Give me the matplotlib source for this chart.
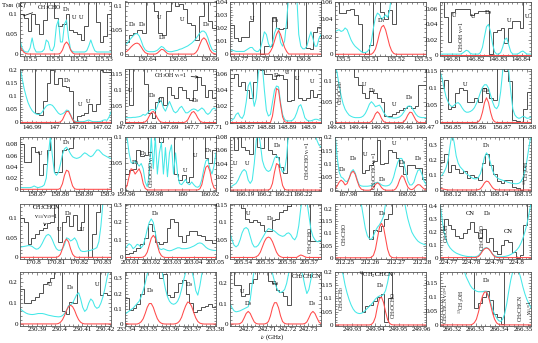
import numpy as np
import matplotlib
matplotlib.use("Agg")
import matplotlib.pyplot as plt
from matplotlib.ticker import MultipleLocator, AutoMinorLocator, FuncFormatter
from matplotlib.transforms import blended_transform_factory

plt.rcParams['font.family'] = ['Liberation Serif', 'DejaVu Serif']
plt.rcParams['mathtext.fontset'] = 'stix'

# frequency window of each panel (GHz), row by row
freq_lo = [115.496, 130.633, 130.766, 135.497, 146.805,
           146.985, 147.670, 148.863, 149.4295, 156.845,
           158.8627, 159.959, 166.1823, 167.9712, 168.1149,
           170.7943, 203.0077, 205.5341, 212.2461, 224.7665,
           230.3825, 233.3395, 242.6916, 249.9227, 266.3149]
freq_hi = [115.533, 130.662, 130.808, 135.5313, 146.844,
           147.024, 147.7114, 148.9062, 149.4705, 156.8816,
           158.9018, 160.024, 166.229, 168.0329, 168.1533,
           170.8339, 203.0505, 205.5755, 212.2815, 224.8061,
           230.4226, 233.3805, 242.7364, 249.9618, 266.3533]
tmb_lo = [-0.005, -0.004, -0.0015, -0.002, -0.0015,
          -0.004, -0.003, -0.0012, -0.002, -0.003,
          -0.003, -0.002, -0.0015, -0.003, -0.007,
          -0.003, -0.006, -0.003, -0.003, -0.007,
          -0.01, -0.013, -0.01, -0.004, -0.004]
tmb_hi = [0.131, 0.11, 0.0402, 0.0602, 0.07,
          0.203, 0.165, 0.066, 0.128, 0.156,
          0.094, 0.101, 0.081, 0.203, 0.36,
          0.137, 0.305, 0.152, 0.22, 0.415,
          0.252, 0.346, 0.259, 0.202, 0.19]
freq_step = [0.01, 0.01, 0.01, 0.01, 0.01,
             0.01, 0.01, 0.01, 0.01, 0.01,
             0.01, 0.02, 0.01, 0.02, 0.01,
             0.01, 0.01, 0.01, 0.01, 0.01,
             0.01, 0.01, 0.01, 0.01, 0.01]
tmb_step = [0.05, 0.05, 0.01, 0.02, 0.02,
            0.05, 0.05, 0.02, 0.05, 0.05,
            0.02, 0.05, 0.02, 0.05, 0.1,
            0.05, 0.1, 0.05, 0.05, 0.1,
            0.1, 0.1, 0.1, 0.05, 0.05]

# observed spectra, channel values (K), channels spread evenly over the window
obs_spec = [
    [0.10, 0.09, 0.058, 0.10, 0.075, 0.05, 0.085, 0.14, 0.14, 0.09, 0.07, 0.075,
     0.10, 0.06, 0.055, 0.05, 0.035, 0.07, 0.14, 0.14, 0.08, 0.03, 0.045, 0.10],
    [0.025, 0.04, 0.045, 0.05, 0.045, 0.12, 0.12, 0.09, 0.045, 0.04, 0.09,
     0.12, 0.1, 0.105, 0.095, 0.065, 0.06, 0.03, 0.08, 0.12, 0.07, 0.055],
    [0.022, 0.012, 0.01, 0.013, 0.013, 0.025, 0.05, 0.05, 0.0, 0.006, 0.006, 0.028,
     0.02, 0.019, 0.02, 0.045, 0.05, 0.05, 0.05, 0.05, 0.005, 0.004, 0.017, 0.021],
    [0.07, 0.047, 0.047, 0.05, 0.052, 0.045, 0.035, 0.003, 0.0, 0.01, 0.07, 0.07,
     0.048, 0.04, 0.05, 0.034, 0.07, 0.07, 0.07, 0.07, 0.07, 0.07, 0.07, 0.07],
    [0.08, 0.05, 0.017, 0.056, 0.06, 0.06, 0.06, 0.06, 0.052, 0.055, 0.057, 0.058,
     0.058, 0.001, 0.03, 0.032, 0.035, 0.015, 0.035, 0.045, 0.045, 0.035, 0.08, 0.08],
    [0.25, 0.25, 0.25, 0.25, 0.035, 0.03, 0.08, 0.15, 0.2, 0.145, 0.17, 0.14,
     0.135, 0.12, 0.0, 0.025, 0.03, 0.035, 0.07, 0.045, 0.07, 0.2, 0.19, 0.19],
    [0.17, 0.055, 0.17, 0.17, 0.17, 0.12, 0.03, 0.015, 0.063, 0.078, 0.054, 0.11,
     0.085, 0.075, 0.11, 0.1, 0.075, 0.068, 0.1, 0.14, 0.115, 0.08, 0.1, 0.075],
    [0.055, 0.06, 0.045, 0.05, 0.04, 0.03, 0.05, 0.07, 0.065, 0.06, 0.06, 0.054,
     0.058, 0.058, 0.054, 0.026, 0.028, 0.07, 0.03, 0.028, 0.03, 0.04, 0.032, 0.035],
    [0.14, 0.14, 0.14, 0.14, 0.14, 0.11, 0.09, 0.07, 0.058, 0.075, 0.07, 0.06,
     0.05, 0.015, 0.017, 0.02, 0.025, 0.03, 0.035, 0.04, 0.035, 0.04, 0.09, 0.09],
    [0.1, 0.125, 0.04, 0.045, 0.085, 0.1, 0.095, 0.06, 0.06, 0.07, 0.06, 0.1,
     0.085, 0.07, 0.065, 0.16, 0.16, 0.15, 0.12, 0.006, 0.005, 0.0, 0.04, 0.09],
    [0.08, 0.048, 0.048, 0.075, 0.066, 0.025, 0.045, 0.07, 0.1, 0.03, 0.03, 0.07,
     0.072, 0.074, 0.1, 0.1, 0.1, 0.1, 0.1, 0.1, 0.1, 0.1, 0.1, 0.1],
    [0.03, 0.037, 0.04, 0.075, 0.065, 0.066, 0.11, 0.11, 0.11, 0.09, 0.11, 0.11,
     0.11, 0.03, 0.018, 0.028, 0.015, 0.025, 0.11, 0.11, 0.11, 0.06, 0.05, 0.075],
    [0.09, 0.06, 0.08, 0.065, 0.06, 0.055, 0.09, 0.065, 0.064, 0.085, 0.06, 0.055,
     0.05, 0.035, 0.025, 0.09, 0.09, 0.09, 0.09, 0.09, 0.09, 0.09, 0.09, 0.09],
    [0.25, 0.25, 0.25, 0.25, 0.25, 0.25, 0.25, 0.066, 0.078, 0.097, 0.109, 0.19,
     0.1, 0.103, 0.152, 0.146, 0.12, 0.09, 0.06, 0.097, 0.097, 0.084, 0.084, 0.041],
    [0.19, 0.245, 0.12, 0.17, 0.14, 0.115, 0.13, 0.08, 0.1, 0.09, 0.07, 0.18,
     0.245, 0.17, 0.11, 0.06, 0.05, 0.065, 0.07, 0.017, 0.015, 0.0, 0.37, 0.37],
    [0.1, 0.09, 0.034, 0.05, 0.06, 0.071, 0.075, 0.088, 0.092, 0.14, 0.04, 0.09,
     0.105, 0.08, 0.11, 0.07, 0.09, 0.14, 0.0, 0.06, 0.116, 0.14, 0.14, 0.14],
    [0.02, 0.025, 0.035, 0.055, 0.074, 0.11, 0.19, 0.15, 0.09, 0.074, 0.09, 0.17,
     0.22, 0.2, 0.12, 0.09, 0.13, 0.15, 0.15, 0.13, 0.12, 0.1, 0.1, 0.08],
    [0.16, 0.16, 0.16, 0.14, 0.11, 0.1, 0.106, 0.1, 0.093, 0.074, 0.075, 0.106,
     0.11, 0.13, 0.136, 0.145, 0.16, 0.16, 0.16, 0.16, 0.16, 0.046, 0.046, 0.046],
    [0.25, 0.25, 0.25, 0.25, 0.25, 0.25, 0.25, 0.25, 0.25, 0.075, 0.114, 0.108,
     0.13, 0.16, 0.18, 0.25, 0.25, 0.25, 0.25, 0.25, 0.25, 0.25, 0.25, 0.25],
    [0.21, 0.3, 0.25, 0.22, 0.17, 0.15, 0.19, 0.225, 0.275, 0.2, 0.15, 0.22,
     0.12, 0.15, 0.05, 0.025, 0.1, 0.14, 0.12, 0.04, 0.0, 0.02, 0.25, 0.42],
    [0.17, 0.1, 0.1, 0.114, 0.13, 0.15, 0.19, 0.2, 0.22, 0.26, 0.26, 0.06,
     0.05, 0.106, 0.1, 0.26, 0.26, 0.26, 0.26, 0.26, 0.26, 0.14, 0.15, 0.14],
    [0.17, 0.093, 0.104, 0.13, 0.2, 0.36, 0.36, 0.36, 0.36, 0.3, 0.33, 0.19,
     0.18, 0.21, 0.27, 0.29, 0.2, 0.137, 0.082, 0.09, 0.115, 0.12, 0.13, 0.115],
    [0.27, 0.19, 0.19, 0.14, 0.15, 0.2, 0.22, 0.27, 0.27, 0.27, 0.21, 0.2,
     0.17, 0.16, 0.14, 0.095, 0.27, 0.27, 0.27, 0.27, 0.27, 0.27, 0.27, 0.27],
    [0.25, 0.25, 0.25, 0.25, 0.25, 0.25, 0.25, 0.048, 0.07, 0.075, 0.09, 0.105,
     0.118, 0.01, 0.1, 0.25, 0.25, 0.25, 0.25, 0.25, 0.25, 0.25, 0.25, 0.25],
    [0.2, 0.2, 0.2, 0.2, 0.2, 0.2, 0.2, 0.2, 0.2, 0.06, 0.078, 0.1,
     0.12, 0.09, 0.04, 0.028, 0.004, 0.2, 0.2, 0.2, 0.2, 0.2, 0.2, 0.2],
]

# full LTE model, all species (K), sampled evenly over the window
model_all = [
    [0.035, 0.015, 0.007, 0.005, 0.005, 0.015, 0.04, 0.015, 0.005, 0.005, 0.005, 0.006,
     0.012, 0.035, 0.03, 0.01, 0.008, 0.02, 0.07, 0.085, 0.03, 0.03, 0.075, 0.085,
     0.04, 0.012, 0.006, 0.005, 0.005, 0.005, 0.005, 0.005, 0.005, 0.008, 0.02, 0.035,
     0.02, 0.008, 0.005, 0.005, 0.005, 0.005, 0.005, 0.005, 0.005, 0.005],
    [0.02, 0.022, 0.028, 0.033, 0.038, 0.042, 0.043, 0.038, 0.028, 0.016, 0.009, 0.006,
     0.005, 0.005, 0.005, 0.006, 0.008, 0.012, 0.016, 0.014, 0.009, 0.006, 0.005, 0.005,
     0.006, 0.007, 0.008, 0.01, 0.011, 0.013, 0.015, 0.017, 0.02, 0.023, 0.027, 0.032,
     0.038, 0.044, 0.048, 0.048, 0.044, 0.034, 0.02, 0.01, 0.006, 0.005],
    [0.003, 0.003, 0.0025, 0.002, 0.002, 0.002, 0.002, 0.002, 0.003, 0.004, 0.005, 0.005,
     0.003, 0.002, 0.002, 0.004, 0.01, 0.017, 0.015, 0.008, 0.005, 0.008, 0.016, 0.02,
     0.019, 0.009, 0.006, 0.01, 0.025, 0.045, 0.06, 0.06, 0.06, 0.045, 0.015, 0.006,
     0.004, 0.004, 0.006, 0.012, 0.017, 0.012, 0.006, 0.006, 0.012, 0.015],
    [0.026, 0.027, 0.028, 0.026, 0.027, 0.03, 0.028, 0.022, 0.016, 0.012, 0.009, 0.007,
     0.005, 0.003, 0.002, 0.002, 0.003, 0.006, 0.015, 0.03, 0.042, 0.047, 0.045, 0.04,
     0.042, 0.045, 0.042, 0.05, 0.07, 0.08, 0.08, 0.08, 0.08, 0.08, 0.08, 0.08,
     0.08, 0.08, 0.08, 0.08, 0.08, 0.08, 0.08, 0.08, 0.08, 0.08],
    [0.001, 0.001, 0.001, 0.001, 0.001, 0.001, 0.001, 0.001, 0.001, 0.001, 0.001, 0.002,
     0.004, 0.006, 0.005, 0.002, 0.001, 0.001, 0.001, 0.001, 0.003, 0.01, 0.024, 0.037,
     0.04, 0.03, 0.014, 0.004, 0.001, 0.001, 0.003, 0.01, 0.02, 0.022, 0.013, 0.004,
     0.001, 0.001, 0.001, 0.002, 0.004, 0.005, 0.003, 0.001, 0.001, 0.001],
    [0.21, 0.17, 0.13, 0.1, 0.075, 0.058, 0.045, 0.037, 0.032, 0.03, 0.032, 0.04,
     0.052, 0.062, 0.067, 0.068, 0.065, 0.056, 0.045, 0.035, 0.03, 0.033, 0.038, 0.047,
     0.045, 0.03, 0.012, 0.005, 0.003, 0.003, 0.003, 0.003, 0.004, 0.007, 0.009, 0.006,
     0.003, 0.003, 0.003, 0.003, 0.004, 0.008, 0.01, 0.008, 0.02, 0.04],
    [0.015, 0.015, 0.015, 0.015, 0.016, 0.016, 0.017, 0.018, 0.02, 0.025, 0.022, 0.028,
     0.035, 0.04, 0.04, 0.036, 0.05, 0.07, 0.065, 0.045, 0.035, 0.05, 0.065, 0.05,
     0.035, 0.03, 0.035, 0.045, 0.05, 0.04, 0.03, 0.03, 0.035, 0.04, 0.042, 0.04,
     0.035, 0.04, 0.045, 0.04, 0.03, 0.025, 0.03, 0.04, 0.045, 0.04],
    [0.002, 0.003, 0.005, 0.01, 0.012, 0.007, 0.005, 0.01, 0.025, 0.045, 0.05, 0.035,
     0.02, 0.03, 0.06, 0.075, 0.07, 0.04, 0.015, 0.008, 0.01, 0.025, 0.04, 0.045,
     0.044, 0.025, 0.01, 0.004, 0.002, 0.002, 0.002, 0.003, 0.006, 0.012, 0.02, 0.022,
     0.015, 0.006, 0.003, 0.002, 0.002, 0.003, 0.004, 0.004, 0.003, 0.003],
    [0.14, 0.12, 0.09, 0.065, 0.045, 0.032, 0.024, 0.018, 0.015, 0.013, 0.012, 0.012,
     0.012, 0.013, 0.016, 0.022, 0.032, 0.044, 0.05, 0.045, 0.038, 0.04, 0.042, 0.035,
     0.025, 0.018, 0.014, 0.012, 0.012, 0.011, 0.011, 0.012, 0.014, 0.018, 0.025, 0.033,
     0.039, 0.04, 0.036, 0.028, 0.02, 0.015, 0.013, 0.012, 0.012, 0.012],
    [0.15, 0.13, 0.1, 0.075, 0.06, 0.05, 0.046, 0.05, 0.056, 0.058, 0.052, 0.042,
     0.034, 0.03, 0.03, 0.032, 0.036, 0.043, 0.055, 0.07, 0.088, 0.102, 0.11, 0.11,
     0.1, 0.08, 0.06, 0.045, 0.04, 0.05, 0.09, 0.15, 0.17, 0.17, 0.15, 0.09,
     0.04, 0.022, 0.015, 0.012, 0.014, 0.018, 0.016, 0.012, 0.013, 0.016],
    [0.004, 0.003, 0.003, 0.003, 0.003, 0.003, 0.004, 0.006, 0.004, 0.003, 0.004, 0.005,
     0.008, 0.02, 0.06, 0.095, 0.06, 0.03, 0.025, 0.03, 0.045, 0.062, 0.072, 0.075,
     0.07, 0.063, 0.058, 0.056, 0.055, 0.056, 0.058, 0.062, 0.065, 0.063, 0.06, 0.058,
     0.06, 0.065, 0.07, 0.07, 0.066, 0.062, 0.06, 0.058, 0.056, 0.055],
    [0.11, 0.1, 0.07, 0.052, 0.05, 0.055, 0.05, 0.045, 0.05, 0.04, 0.015, 0.006,
     0.03, 0.1, 0.04, 0.1, 0.03, 0.07, 0.09, 0.03, 0.08, 0.025, 0.07, 0.085,
     0.03, 0.07, 0.03, 0.012, 0.01, 0.015, 0.02, 0.012, 0.01, 0.015, 0.01, 0.006,
     0.005, 0.008, 0.02, 0.04, 0.055, 0.058, 0.04, 0.03, 0.045, 0.07],
    [0.005, 0.006, 0.008, 0.01, 0.015, 0.022, 0.028, 0.031, 0.028, 0.015, 0.01, 0.015,
     0.04, 0.075, 0.09, 0.07, 0.045, 0.035, 0.03, 0.028, 0.03, 0.038, 0.048, 0.052,
     0.048, 0.035, 0.027, 0.03, 0.05, 0.09, 0.09, 0.09, 0.09, 0.09, 0.09, 0.09,
     0.09, 0.09, 0.09, 0.09, 0.09, 0.09, 0.085, 0.075, 0.068, 0.065],
    [0.22, 0.13, 0.07, 0.05, 0.045, 0.035, 0.032, 0.045, 0.07, 0.078, 0.065, 0.04,
     0.02, 0.016, 0.015, 0.015, 0.015, 0.016, 0.018, 0.022, 0.028, 0.03, 0.026, 0.02,
     0.017, 0.016, 0.017, 0.02, 0.03, 0.05, 0.08, 0.105, 0.12, 0.12, 0.105, 0.07,
     0.035, 0.02, 0.02, 0.03, 0.055, 0.075, 0.078, 0.06, 0.035, 0.022],
    [0.09, 0.1, 0.12, 0.15, 0.2, 0.3, 0.38, 0.32, 0.23, 0.18, 0.155, 0.14,
     0.125, 0.11, 0.1, 0.09, 0.08, 0.075, 0.075, 0.085, 0.11, 0.16, 0.22, 0.25,
     0.23, 0.18, 0.13, 0.1, 0.085, 0.075, 0.07, 0.065, 0.06, 0.055, 0.05, 0.047,
     0.044, 0.042, 0.042, 0.045, 0.055, 0.08, 0.13, 0.2, 0.29, 0.37],
    [0.026, 0.027, 0.028, 0.029, 0.03, 0.03, 0.028, 0.024, 0.021, 0.022, 0.027, 0.036,
     0.047, 0.056, 0.059, 0.055, 0.045, 0.032, 0.022, 0.018, 0.018, 0.022, 0.032, 0.05,
     0.048, 0.042, 0.045, 0.05, 0.042, 0.026, 0.017, 0.015, 0.015, 0.016, 0.017, 0.018,
     0.02, 0.022, 0.025, 0.04, 0.08, 0.14, 0.14, 0.14, 0.14, 0.14],
    [0.05, 0.065, 0.078, 0.07, 0.05, 0.06, 0.075, 0.07, 0.055, 0.07, 0.11, 0.16,
     0.2, 0.22, 0.2, 0.14, 0.08, 0.05, 0.045, 0.05, 0.045, 0.04, 0.038, 0.04,
     0.045, 0.05, 0.055, 0.055, 0.05, 0.05, 0.05, 0.052, 0.055, 0.06, 0.065, 0.072,
     0.08, 0.083, 0.08, 0.07, 0.058, 0.05, 0.045, 0.042, 0.04, 0.04],
    [0.07, 0.05, 0.035, 0.03, 0.035, 0.05, 0.07, 0.082, 0.085, 0.08, 0.06, 0.04,
     0.03, 0.03, 0.035, 0.045, 0.055, 0.065, 0.075, 0.082, 0.08, 0.078, 0.075, 0.07,
     0.065, 0.062, 0.06, 0.062, 0.068, 0.07, 0.065, 0.055, 0.05, 0.06, 0.09, 0.14,
     0.17, 0.17, 0.16, 0.12, 0.08, 0.06, 0.05, 0.045, 0.045, 0.05],
    [0.25, 0.25, 0.25, 0.25, 0.25, 0.25, 0.25, 0.25, 0.25, 0.25, 0.25, 0.25,
     0.25, 0.22, 0.17, 0.12, 0.09, 0.078, 0.075, 0.09, 0.11, 0.125, 0.135, 0.15,
     0.17, 0.22, 0.25, 0.25, 0.25, 0.25, 0.25, 0.25, 0.25, 0.25, 0.25, 0.2,
     0.16, 0.13, 0.105, 0.09, 0.078, 0.068, 0.062, 0.058, 0.055, 0.052],
    [0.42, 0.3, 0.2, 0.14, 0.1, 0.075, 0.058, 0.045, 0.035, 0.028, 0.022, 0.017,
     0.013, 0.01, 0.008, 0.007, 0.006, 0.006, 0.008, 0.015, 0.035, 0.058, 0.073, 0.078,
     0.07, 0.05, 0.028, 0.015, 0.008, 0.006, 0.006, 0.007, 0.009, 0.012, 0.017, 0.024,
     0.033, 0.045, 0.06, 0.08, 0.11, 0.15, 0.2, 0.26, 0.34, 0.42],
    [0.075, 0.065, 0.058, 0.052, 0.048, 0.046, 0.045, 0.046, 0.048, 0.05, 0.05, 0.05,
     0.048, 0.045, 0.042, 0.04, 0.038, 0.036, 0.035, 0.034, 0.035, 0.04, 0.05, 0.065,
     0.088, 0.092, 0.1, 0.12, 0.14, 0.15, 0.12, 0.08, 0.06, 0.07, 0.1, 0.12,
     0.11, 0.085, 0.075, 0.08, 0.1, 0.13, 0.17, 0.22, 0.26, 0.26],
    [0.065, 0.075, 0.085, 0.095, 0.105, 0.12, 0.135, 0.15, 0.18, 0.22, 0.27, 0.33,
     0.37, 0.37, 0.37, 0.37, 0.37, 0.37, 0.37, 0.3, 0.23, 0.18, 0.15, 0.135,
     0.13, 0.135, 0.15, 0.18, 0.23, 0.29, 0.34, 0.37, 0.37, 0.35, 0.3, 0.22,
     0.19, 0.25, 0.33, 0.37, 0.37, 0.37, 0.37, 0.37, 0.37, 0.37],
    [0.1, 0.08, 0.065, 0.06, 0.062, 0.065, 0.07, 0.075, 0.08, 0.085, 0.12, 0.2,
     0.27, 0.27, 0.27, 0.27, 0.27, 0.27, 0.27, 0.27, 0.27, 0.25, 0.21, 0.18,
     0.16, 0.155, 0.16, 0.17, 0.2, 0.25, 0.27, 0.27, 0.27, 0.27, 0.27, 0.27,
     0.24, 0.19, 0.15, 0.17, 0.22, 0.27, 0.27, 0.27, 0.27, 0.27],
    [0.21, 0.21, 0.21, 0.21, 0.19, 0.15, 0.12, 0.095, 0.075, 0.06, 0.05, 0.045,
     0.043, 0.044, 0.048, 0.055, 0.063, 0.07, 0.078, 0.088, 0.098, 0.105, 0.11, 0.11,
     0.115, 0.13, 0.16, 0.2, 0.21, 0.21, 0.21, 0.21, 0.21, 0.21, 0.21, 0.21,
     0.21, 0.21, 0.21, 0.21, 0.21, 0.21, 0.21, 0.21, 0.21, 0.21],
    [0.2, 0.2, 0.2, 0.2, 0.2, 0.2, 0.2, 0.2, 0.2, 0.2, 0.2, 0.2,
     0.19, 0.17, 0.155, 0.14, 0.13, 0.125, 0.12, 0.118, 0.118, 0.118, 0.12, 0.12,
     0.105, 0.08, 0.055, 0.038, 0.025, 0.015, 0.012, 0.02, 0.04, 0.075, 0.12, 0.16,
     0.19, 0.2, 0.2, 0.19, 0.165, 0.135, 0.11, 0.09, 0.075, 0.06],
]

# model of the deuterated species alone (K), same sampling
model_deut = [
    [0.02, 0.01, 0.004, 0.001, 0, 0, 0, 0, 0, 0, 0, 0, 0, 0, 0, 0, 0, 0, 0, 0,
     0.002, 0.01, 0.024, 0.03, 0.024, 0.01, 0.003, 0, 0, 0, 0, 0, 0, 0, 0, 0, 0, 0, 0,
     0, 0, 0, 0, 0, 0, 0],
    [0.004, 0.006, 0.01, 0.015, 0.019, 0.022, 0.023, 0.021, 0.015, 0.008, 0.003, 0.001,
     0, 0, 0, 0, 0.002, 0.006, 0.01, 0.009, 0.005, 0.001, 0, 0, 0, 0, 0, 0, 0, 0, 0,
     0, 0, 0, 0, 0.003, 0.009, 0.02, 0.03, 0.034, 0.03, 0.02, 0.009, 0.003, 0.001, 0],
    [0, 0, 0, 0, 0, 0, 0, 0, 0, 0, 0, 0, 0, 0, 0, 0, 0, 0, 0, 0,
     0.002, 0.005, 0.01, 0.015, 0.018, 0.015, 0.01, 0.005, 0.002,
     0, 0, 0, 0, 0, 0, 0, 0, 0, 0, 0, 0, 0, 0, 0, 0, 0],
    [0, 0, 0, 0, 0, 0, 0, 0, 0, 0, 0, 0, 0, 0, 0, 0, 0, 0, 0,
     0.002, 0.006, 0.014, 0.024, 0.031, 0.033, 0.028, 0.019, 0.01, 0.004, 0.001,
     0, 0, 0, 0, 0, 0, 0, 0, 0, 0, 0, 0, 0, 0, 0, 0],
    [0, 0],
    [0, 0, 0, 0, 0, 0, 0, 0, 0, 0, 0, 0, 0, 0, 0, 0, 0, 0, 0, 0,
     0.002, 0.01, 0.027, 0.042, 0.042, 0.027, 0.01, 0.002,
     0, 0, 0, 0, 0, 0, 0, 0, 0, 0, 0, 0, 0, 0, 0, 0, 0, 0],
    [0, 0, 0, 0, 0, 0, 0, 0, 0, 0,
     0.002, 0.008, 0.02, 0.031, 0.034, 0.026, 0.014, 0.005, 0.001,
     0, 0, 0, 0, 0, 0, 0, 0, 0, 0, 0,
     0.002, 0.008, 0.02, 0.031, 0.034, 0.026, 0.014, 0.005, 0.001,
     0, 0, 0, 0, 0, 0, 0],
    [0, 0, 0, 0, 0, 0, 0, 0, 0, 0, 0, 0, 0, 0, 0, 0, 0, 0, 0, 0, 0,
     0.008, 0.025, 0.042, 0.04, 0.022, 0.007, 0.001,
     0, 0, 0, 0, 0, 0, 0, 0, 0, 0, 0, 0, 0, 0, 0, 0, 0, 0],
    [0, 0, 0, 0, 0, 0, 0, 0, 0, 0, 0, 0, 0, 0, 0, 0, 0, 0,
     0.003, 0.01, 0.021, 0.026, 0.021, 0.01, 0.003,
     0, 0, 0, 0, 0, 0, 0, 0, 0,
     0.002, 0.008, 0.018, 0.025, 0.024, 0.015, 0.006, 0.001,
     0, 0, 0, 0],
    [0, 0, 0, 0, 0, 0, 0, 0, 0, 0, 0, 0, 0, 0, 0, 0, 0, 0, 0,
     0.002, 0.01, 0.03, 0.058, 0.072, 0.058, 0.03, 0.01, 0.002,
     0, 0, 0, 0, 0, 0, 0, 0, 0, 0, 0, 0, 0, 0, 0, 0, 0, 0],
    [0, 0, 0, 0, 0, 0, 0, 0, 0, 0, 0, 0, 0, 0, 0, 0, 0, 0, 0, 0,
     0.002, 0.01, 0.025, 0.034, 0.032, 0.018, 0.006, 0.001,
     0, 0, 0, 0, 0, 0, 0, 0, 0, 0, 0, 0, 0, 0, 0, 0, 0, 0],
    [0.002, 0.008, 0.025, 0.04, 0.038, 0.03, 0.035, 0.04, 0.03, 0.012, 0.003,
     0, 0, 0, 0, 0, 0, 0, 0, 0, 0, 0, 0, 0, 0, 0, 0, 0, 0, 0, 0, 0, 0, 0, 0, 0, 0,
     0.002, 0.01, 0.028, 0.043, 0.046, 0.035, 0.015, 0.004, 0.001],
    [0, 0, 0, 0, 0, 0, 0, 0, 0, 0, 0, 0, 0, 0, 0, 0, 0, 0, 0, 0,
     0.002, 0.01, 0.027, 0.04, 0.038, 0.022, 0.007, 0.001,
     0, 0, 0, 0, 0, 0, 0, 0, 0, 0, 0, 0, 0, 0, 0, 0, 0, 0],
    [0.005, 0.015, 0.03, 0.038, 0.032, 0.02, 0.025, 0.045, 0.065, 0.072, 0.06, 0.035,
     0.014, 0.004, 0.001, 0, 0, 0, 0.003, 0.01, 0.022, 0.028, 0.022, 0.01,
     0.003, 0, 0, 0, 0, 0, 0.005, 0.018, 0.04, 0.055, 0.05, 0.03,
     0.012, 0.004, 0.002, 0.006, 0.015, 0.021, 0.02, 0.012, 0.005, 0.001],
    [0.01, 0.008, 0.005, 0.002, 0, 0, 0, 0, 0, 0, 0, 0, 0, 0, 0, 0, 0, 0, 0,
     0.002, 0.008, 0.025, 0.048, 0.06, 0.055, 0.035, 0.015, 0.004, 0.001,
     0, 0, 0, 0, 0, 0, 0, 0, 0, 0, 0, 0, 0, 0, 0, 0, 0],
    [0, 0, 0, 0, 0, 0, 0, 0, 0, 0, 0, 0, 0, 0, 0, 0, 0, 0, 0,
     0.002, 0.008, 0.022, 0.04, 0.047, 0.04, 0.022, 0.008, 0.002,
     0, 0, 0, 0, 0, 0, 0, 0, 0, 0, 0, 0, 0, 0, 0, 0, 0, 0],
    [0, 0, 0, 0, 0, 0, 0, 0, 0,
     0.002, 0.01, 0.03, 0.07, 0.11, 0.126, 0.11, 0.07, 0.03, 0.01, 0.002,
     0, 0, 0, 0, 0, 0, 0, 0, 0, 0, 0, 0, 0, 0, 0, 0, 0, 0, 0, 0, 0, 0, 0, 0, 0, 0],
    [0, 0, 0, 0, 0, 0, 0, 0, 0, 0, 0, 0, 0,
     0.002, 0.006, 0.015, 0.03, 0.045, 0.055, 0.058, 0.055, 0.045, 0.03, 0.015, 0.006,
     0.002, 0, 0, 0, 0, 0, 0, 0, 0, 0.004, 0.007, 0.005, 0.002,
     0, 0, 0, 0, 0, 0, 0, 0],
    [0, 0, 0, 0, 0, 0, 0, 0, 0, 0, 0, 0, 0, 0, 0, 0, 0, 0,
     0.002, 0.01, 0.035, 0.08, 0.125, 0.141, 0.125, 0.08, 0.035, 0.01, 0.002,
     0, 0, 0, 0, 0, 0, 0, 0, 0, 0, 0, 0, 0, 0, 0, 0, 0],
    [0, 0, 0, 0, 0, 0, 0, 0, 0, 0, 0, 0, 0, 0, 0, 0, 0, 0,
     0.002, 0.008, 0.025, 0.05, 0.068, 0.075, 0.068, 0.05, 0.025, 0.008, 0.002,
     0, 0, 0, 0, 0, 0, 0, 0, 0, 0, 0, 0, 0, 0, 0, 0, 0],
    [0, 0, 0, 0, 0, 0, 0, 0, 0, 0, 0, 0, 0, 0, 0, 0, 0, 0, 0,
     0.002, 0.008, 0.02, 0.04, 0.065, 0.083, 0.09, 0.083, 0.065, 0.04, 0.02, 0.008, 0.002,
     0, 0, 0, 0, 0, 0, 0, 0, 0, 0, 0, 0, 0, 0],
    [0.004, 0.002, 0, 0, 0, 0, 0,
     0.005, 0.015, 0.035, 0.07, 0.11, 0.135, 0.135, 0.11, 0.07, 0.035, 0.015, 0.005, 0.001,
     0, 0, 0, 0, 0,
     0.002, 0.007, 0.02, 0.045, 0.085, 0.12, 0.145, 0.14, 0.115, 0.075, 0.04, 0.017, 0.006,
     0.002, 0, 0, 0, 0, 0, 0, 0],
    [0, 0, 0, 0, 0,
     0.002, 0.01, 0.03, 0.052, 0.062, 0.052, 0.03, 0.01, 0.002,
     0, 0, 0, 0,
     0.003, 0.012, 0.04, 0.08, 0.105, 0.105, 0.08, 0.04, 0.012, 0.003,
     0, 0, 0, 0, 0, 0, 0, 0, 0,
     0.002, 0.01, 0.03, 0.052, 0.062, 0.052, 0.03, 0.01, 0.002],
    [0, 0, 0, 0, 0, 0, 0, 0, 0, 0, 0, 0, 0, 0, 0, 0, 0, 0,
     0.002, 0.01, 0.03, 0.07, 0.1, 0.105, 0.085, 0.05, 0.02, 0.006, 0.001,
     0, 0, 0, 0, 0, 0, 0, 0, 0, 0, 0, 0, 0, 0, 0, 0, 0],
    [0, 0, 0, 0, 0, 0, 0, 0, 0, 0, 0, 0, 0, 0, 0, 0,
     0.002, 0.008, 0.02, 0.045, 0.075, 0.102, 0.117, 0.117, 0.1, 0.072, 0.042, 0.02, 0.007,
     0.002, 0, 0, 0, 0, 0, 0, 0, 0, 0, 0, 0, 0, 0, 0, 0, 0],
]

# line identifications: panel, x (fraction of the window), T (K), text, rotation
line_ids = [
    (0, 0.505, 0.11, "D$_1$", 0), (0, 0.593, 0.09, "U", 0), (0, 0.67, 0.09, "U", 0),
    (1, 0.077, 0.062, "D$_8$", 0), (1, 0.187, 0.062, "D$_8$", 0), (1, 0.374, 0.077, "U", 0),
    (1, 0.407, 0.035, "D$_8$", 0), (1, 0.626, 0.073, "U", 0), (1, 0.89, 0.062, "D$_8$", 0),
    (2, 0.242, 0.027, "U", 0), (2, 0.495, 0.026, "D$_1$", 0),
    (3, 0.505, 0.038, "D$_1$", 0),
    (4, 0.16, 0.052, "U", 0), (4, 0.235, 0.024, "CH$_3$OH v$_t$=1", 90), (4, 0.363, 0.05, "U", 0),
    (4, 0.527, 0.055, "D$_5$", 0), (4, 0.758, 0.045, "U", 0), (4, 0.956, 0.05, "U", 0),
    (5, 0.516, 0.16, "D$_1$", 0), (5, 0.66, 0.067, "U", 0), (5, 0.747, 0.078, "U", 0),
    (6, 0.055, 0.099, "U", 0), (6, 0.297, 0.082, "D$_8$", 0), (6, 0.385, 0.068, "U", 0),
    (6, 0.77, 0.069, "D$_8$", 0),
    (7, 0.516, 0.058, "D$_1$", 0), (7, 0.626, 0.062, "U", 0), (7, 0.736, 0.054, "U", 0),
    (7, 0.9, 0.05, "U", 0),
    (8, 0.06, 0.072, "CH$_3$OCH$_3$", 90), (8, 0.319, 0.092, "U", 0), (8, 0.407, 0.077, "D$_8$", 0),
    (8, 0.648, 0.043, "U", 0), (8, 0.813, 0.061, "D$_8$", 0),
    (9, 0.275, 0.112, "U", 0), (9, 0.505, 0.093, "D$_8$", 0),
    (10, 0.22, 0.063, "U", 0), (10, 0.505, 0.084, "D$_1$", 0),
    (11, 0.11, 0.052, "D$_1$", 0), (11, 0.198, 0.068, "D$_1$", 0),
    (11, 0.297, 0.04, "CH$_3$OCHO v$_t$=1", 90), (11, 0.66, 0.037, "U", 0),
    (11, 0.77, 0.065, "U", 0), (11, 0.912, 0.074, "D$_1$", 0),
    (12, 0.055, 0.04, "U", 0), (12, 0.187, 0.04, "U", 0), (12, 0.516, 0.067, "D$_8$", 0),
    (12, 0.857, 0.045, "CH$_3$OCHO v$_t$=1", 90),
    (13, 0.077, 0.078, "D$_8$", 0), (13, 0.198, 0.12, "D$_8$", 0), (13, 0.33, 0.134, "U", 0),
    (13, 0.43, 0.075, "CH$_3$OCHO v$_t$=1", 90), (13, 0.52, 0.04, "D$_8$", 0),
    (13, 0.648, 0.175, "U", 0), (13, 0.736, 0.103, "D$_8$", 0), (13, 0.912, 0.12, "D$_8$", 0),
    (14, 0.505, 0.3, "D$_1$", 0), (14, 0.95, 0.115, "$^{13}$CH$_3$OH", 90),
    (15, 0.43, 0.071, "U", 0), (15, 0.53, 0.112, "D$_8$", 0), (15, 0.68, 0.071, "U", 0),
    (16, 0.33, 0.25, "D$_8$", 0),
    (17, 0.198, 0.125, "U", 0), (17, 0.44, 0.11, "D$_8$", 0), (17, 0.88, 0.05, "CH$_3$OCHO", 90),
    (18, 0.11, 0.095, "CH$_3$CHO", 90), (18, 0.516, 0.18, "D$_8$", 0),
    (19, 0.077, 0.19, "CH$_3$OH", 90), (19, 0.33, 0.34, "CN", 0), (19, 0.516, 0.34, "D$_8$", 0),
    (19, 0.473, 0.16, "CH$_3$OCHO", 90), (19, 0.747, 0.2, "CN", 0),
    (20, 0.33, 0.19, "U", 0), (20, 0.55, 0.176, "D$_8$", 0), (20, 0.846, 0.19, "U", 0),
    (21, 0.275, 0.22, "D$_8$", 0), (21, 0.703, 0.26, "D$_8$", 0),
    (22, 0.13, 0.16, "U", 0), (22, 0.2, 0.1, "D$_8$", 0), (22, 0.495, 0.2, "D$_8$", 0),
    (22, 0.9, 0.1, "D$_8$", 0), (22, 0.84, 0.235, "CH$_2$CHCN", 0),
    (23, 0.077, 0.1, "CH$_3$OCH$_3$", 90), (23, 0.45, 0.19, "$^{13}$CH$_2$CHCN", 0),
    (23, 0.495, 0.15, "D$_8$", 0), (23, 0.64, 0.075, "CH$_3$OCHO", 90),
    (24, 0.066, 0.075, "CH$_2$CHCN v$_{15}$=1", 90), (24, 0.242, 0.08, "$^{13}$CH$_3$OH", 90),
    (24, 0.505, 0.159, "D$_8$", 0), (24, 0.93, 0.06, "CH$_2$CHCN\nv$_{11}$=1", 90),
]

# identifications drawn with a pointer: panel, text position, pointed position, text, style
arrow_ids = [
    (0, (0.32, 0.117), (0.035, 0.095), "CH$_3$CHO", "-"),
    (6, (0.50, 0.146), (0.81, 0.14), "CH$_3$OH v$_t$=1", "->"),
    (15, (0.29, 0.116), (0.27, 0.08), "CH$_2$CHCN\nv$_{11}$/v$_{15}$=1", "->"),
]

OBS_COLOR = "#444444"
ALL_COLOR = "#44e8e8"
DEUT_COLOR = "#ff4a4a"


def tick_fmt(v, pos):
    s = "%g" % round(v, 6)
    return "0" if s == "-0" else s


fig = plt.figure(figsize=(5.38, 3.43), dpi=100)
axes = []
for k in range(25):
    r, c = divmod(k, 5)
    ax = fig.add_axes([(20 + 105 * c) / 538.0, 1 - (56 + 67.5 * r) / 343.0,
                       91 / 538.0, 54.5 / 343.0])
    lo, hi = freq_lo[k], freq_hi[k]

    x = np.linspace(lo, hi, len(model_all[k]))
    ax.plot(x, model_all[k], color=ALL_COLOR, lw=0.75)
    x = np.linspace(lo, hi, len(model_deut[k]))
    ax.plot(x, model_deut[k], color=DEUT_COLOR, lw=0.75)
    edges = np.linspace(lo, hi, len(obs_spec[k]) + 1)
    ax.stairs(obs_spec[k], edges, baseline=None, color=OBS_COLOR, lw=0.65)

    ax.set_xlim(lo, hi)
    ax.set_ylim(tmb_lo[k], tmb_hi[k])
    ax.xaxis.set_major_locator(MultipleLocator(freq_step[k]))
    ax.yaxis.set_major_locator(MultipleLocator(tmb_step[k]))
    ax.xaxis.set_minor_locator(AutoMinorLocator())
    ax.yaxis.set_minor_locator(AutoMinorLocator())
    ax.xaxis.set_major_formatter(FuncFormatter(tick_fmt))
    ax.yaxis.set_major_formatter(FuncFormatter(tick_fmt))
    ax.tick_params(which="both", direction="in", top=True, right=True,
                   width=0.4, labelsize=5, pad=1.5, color="#333333")
    ax.tick_params(axis="x", pad=1.0)
    ax.tick_params(which="major", length=2.5)
    ax.tick_params(which="minor", length=1.2)
    for sp in ax.spines.values():
        sp.set_linewidth(0.6)
        sp.set_color("#555555")
    axes.append(ax)

for k, xf, t, txt, rot in line_ids:
    ax = axes[k]
    tr = blended_transform_factory(ax.transAxes, ax.transData)
    ax.text(xf, t, txt, transform=tr, fontsize=4.0 if rot else 4.6, rotation=rot,
            ha="center", va="center", multialignment="center",
            linespacing=1.0, clip_on=False)

for k, xytext, xy, txt, style in arrow_ids:
    ax = axes[k]
    tr = blended_transform_factory(ax.transAxes, ax.transData)
    ax.annotate(txt, xy=xy, xycoords=tr, xytext=xytext, textcoords=tr,
                fontsize=4.2, ha="center", va="center", multialignment="center",
                linespacing=1.0,
                arrowprops=dict(arrowstyle=style, lw=0.5, color="k",
                                shrinkA=1, shrinkB=0))

fig.text(1 / 538.0, 1 - 5 / 343.0, r"T$_{\rm MB}$ (K)", fontsize=5,
         ha="left", va="center")
fig.text(272 / 538.0, 1 - 337.5 / 343.0, r"$\nu$ (GHz)", fontsize=5,
         ha="center", va="center")

fig.savefig("out.png", dpi=100)
